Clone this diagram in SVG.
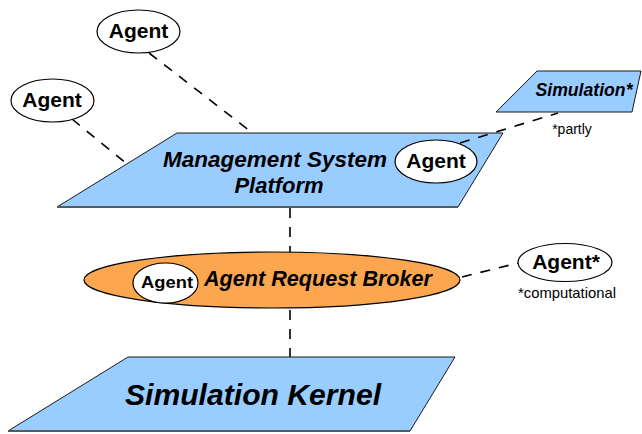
<svg xmlns="http://www.w3.org/2000/svg" width="642" height="434" viewBox="0 0 642 434">
  <style>
    .plane { fill: #99ccff; stroke: #1a1a1a; stroke-width: 1; }
    .base { stroke: #5a5a5a; stroke-width: 2; fill: none; }
    .agent { fill: #ffffff; stroke: #000000; stroke-width: 1.2; }
    .broker { fill: #fca64f; stroke: #000000; stroke-width: 1.2; }
    .link { stroke: #000000; stroke-width: 1.6; stroke-dasharray: 10 9; fill: none; }
    .lbl { font-family: "Liberation Sans", Arial, sans-serif; font-weight: bold; fill: #000; text-anchor: middle; }
    .title { font-family: "Liberation Sans", Arial, sans-serif; font-weight: bold; font-style: italic; fill: #000; text-anchor: middle; }
    .note { font-family: "Liberation Sans", Arial, sans-serif; fill: #000; text-anchor: middle; }
  </style>

  <!-- dashed connectors drawn beneath the nodes -->
  <g id="connectors">
    <line class="link" x1="149" y1="53" x2="250" y2="131"/>
    <line class="link" x1="72" y1="119" x2="127" y2="164"/>
    <line class="link" x1="290" y1="208" x2="290" y2="252"/>
    <line class="link" x1="290" y1="310" x2="290" y2="357"/>
    <line class="link" x1="462" y1="277" x2="518" y2="263"/>
  </g>

  <g id="simulation-kernel">
    <polygon class="plane" points="128,357 455,357 410,431 8,431"/>
    <line class="base" x1="8" y1="431" x2="410" y2="431"/>
    <text class="title" x="253" y="405" font-size="30" textLength="256" lengthAdjust="spacingAndGlyphs">Simulation Kernel</text>
  </g>

  <g id="management-platform">
    <polygon class="plane" points="177,133 503,133 458,207 57,207"/>
    <line class="base" x1="57" y1="207" x2="458" y2="207"/>
    <text class="title" x="275" y="167" font-size="22" textLength="224" lengthAdjust="spacingAndGlyphs">Management System</text>
    <text class="title" x="279" y="193" font-size="22">Platform</text>
  </g>

  <g id="simulation-partly">
    <polygon class="plane" points="537,71 641,71 632,112 496,112"/>
    <text class="title" x="584" y="96" font-size="17.5" textLength="97" lengthAdjust="spacingAndGlyphs">Simulation*</text>
    <text class="note" x="572" y="134" font-size="14">*partly</text>
  </g>

  <!-- link from the platform agent to the partial simulation, drawn over the platform -->
  <g id="connector-platform-sim">
    <line class="link" x1="460" y1="143" x2="558" y2="113"/>
  </g>

  <g id="agent-platform">
    <ellipse class="agent" cx="436" cy="161.5" rx="41" ry="21.5"/>
    <text class="lbl" x="436" y="168" font-size="21">Agent</text>
  </g>

  <g id="agent-top">
    <ellipse class="agent" cx="138.5" cy="31.5" rx="41.5" ry="21.5"/>
    <text class="lbl" x="138.5" y="38" font-size="21">Agent</text>
  </g>

  <g id="agent-left">
    <ellipse class="agent" cx="52.5" cy="100.5" rx="41.5" ry="21.5"/>
    <text class="lbl" x="52" y="107" font-size="21">Agent</text>
  </g>

  <g id="agent-request-broker">
    <ellipse class="broker" cx="272" cy="280" rx="188" ry="28"/>
    <text class="title" x="318" y="286" font-size="21.5" textLength="228" lengthAdjust="spacingAndGlyphs">Agent Request Broker</text>
  </g>

  <g id="agent-broker">
    <ellipse class="agent" cx="165.5" cy="283" rx="32.5" ry="20"/>
    <text class="lbl" x="167" y="288" font-size="17" textLength="52" lengthAdjust="spacingAndGlyphs">Agent</text>
  </g>

  <g id="agent-computational">
    <ellipse class="agent" cx="565" cy="262.5" rx="47" ry="19"/>
    <text class="lbl" x="566" y="269" font-size="21">Agent*</text>
    <text class="note" x="567" y="298" font-size="14.5" textLength="98" lengthAdjust="spacingAndGlyphs">*computational</text>
  </g>
</svg>
